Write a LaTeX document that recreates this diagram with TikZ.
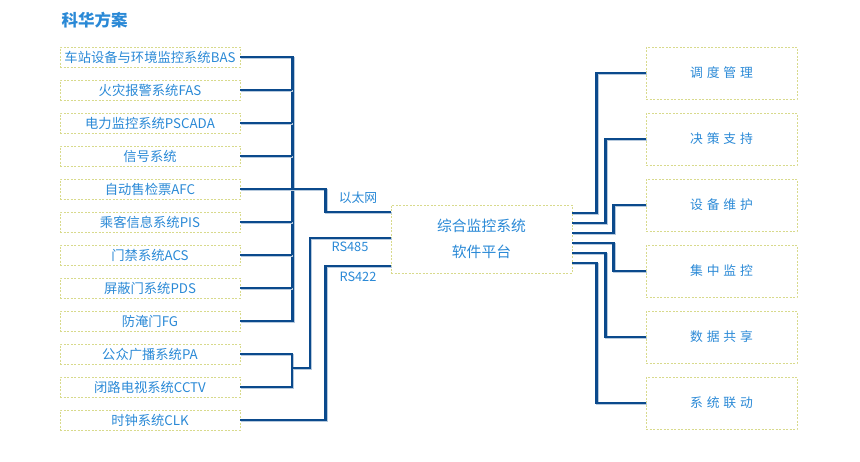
\documentclass[tikz,border=0pt]{standalone}
\usepackage{fontspec}
\setmainfont{Noto Sans CJK SC}
\newfontfamily\widecjk[LetterSpace=30]{Noto Sans CJK SC}
\usetikzlibrary{positioning,calc}
\definecolor{txtblue}{HTML}{2A89D6}
\definecolor{linkblue}{HTML}{0B4A8C}
\definecolor{dashyel}{HTML}{D8DA8C}

\begin{document}
\begin{tikzpicture}[x=1pt,y=-1pt,
    sysbox/.style={draw=dashyel, dash pattern=on 2pt off 1.5pt, minimum width=180pt,
                   minimum height=20pt, inner sep=0pt, text=txtblue, font=\fontsize{13.3}{15}\selectfont},
    funcbox/.style={draw=dashyel, dash pattern=on 2pt off 1.5pt, minimum width=151pt,
                    minimum height=52pt, inner sep=0pt, text=txtblue, font=\fontsize{12.8}{15}\widecjk},
    link/.style={draw=linkblue, line width=2.8pt,
                 preaction={draw=linkblue!30, line width=2.8pt, transform canvas={shift={(0.9,0.9)}}}},
    lbl/.style={text=txtblue, font=\fontsize{12.8}{15}\selectfont, inner sep=0pt},
]
\useasboundingbox (0,0) rectangle (860,461);
% Title
\node[anchor=west, text=txtblue, font=\fontsize{16.5}{18}\selectfont\bfseries] (title) at (58,20) {科华方案};

% Subsystems on the left
\foreach \txt [count=\i] in {车站设备与环境监控系统BAS, 火灾报警系统FAS, 电力监控系统PSCADA, 信号系统,
    自动售检票AFC, 乘客信息系统PIS, 门禁系统ACS, 屏蔽门系统PDS, 防淹门FG,
    公众广播系统PA, 闭路电视系统CCTV, 时钟系统CLK} {
    \node[sysbox] (sys\i) at (150, 57+33*\i-33) {\txt};
}

% Integrated platform
\node[draw=dashyel, dash pattern=on 2pt off 1.5pt, minimum width=181pt, minimum height=68pt,
      align=center, text=txtblue, font=\fontsize{14.8}{26}\selectfont] (main) at (481.5,239)
    {综合监控系统\\软件平台};

% Functions on the right
\foreach \txt [count=\k] in {调度管理, 决策支持, 设备维护, 集中监控, 数据共享, 系统联动} {
    \node[funcbox] (fn\k) at (721.5, 73+66*\k-66) {\txt};
}

% Bus of the first nine subsystems
\draw[link] (sys1.east) -- ++(52,0) |- (sys9.east);
\foreach \i in {2,...,8} {
    \draw[link] (sys\i.east) -- ++(52,0);
}
% Ethernet
\draw[link] (sys5.east) -- ++(85,0) |- ($(main.west)+(0,-27)$);
\node[lbl] (eth) at (358,198) {以太网};

% RS485
\coordinate (pacctv) at (292,368);
\draw[link] (sys10.east) -| (pacctv) |- (sys11.east);
\draw[link] (pacctv) -- ++(18,0) |- ($(main.west)+(0,-1)$);
\node[lbl] (rs485) at (350,247) {RS485};

% RS422
\draw[link] (sys12.east) -- ++(85,0) |- ($(main.west)+(0,27)$);
\node[lbl] (rs422) at (358,277) {RS422};

% Links to functions
\foreach \k/\dy/\dx in {1/-26/24, 2/-16/33, 3/-6/41, 4/4/41, 5/14/33, 6/24/24} {
    \draw[link] ($(main.east)+(0,\dy)$) -- ++(\dx,0) |- (fn\k.west);
}
\end{tikzpicture}
\end{document}
